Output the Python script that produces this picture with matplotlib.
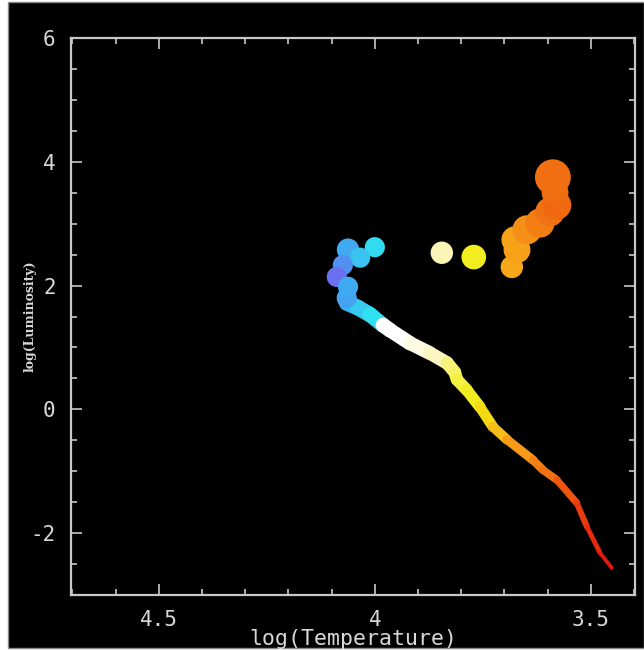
import numpy as np
import matplotlib
matplotlib.use("Agg")
import matplotlib.pyplot as plt
from matplotlib.collections import LineCollection
from matplotlib.colors import LinearSegmentedColormap, Normalize
from matplotlib.patches import Rectangle
from matplotlib.ticker import MultipleLocator

plt.rcParams['axes.unicode_minus'] = False

# ---- data (log T, log L) ----
ms_logT = [4.065, 4.041, 4.011, 3.981, 3.965, 3.919, 3.873, 3.833, 3.815, 3.810,
           3.787, 3.757, 3.727, 3.694, 3.634, 3.611, 3.579, 3.533, 3.509, 3.479, 3.452]
ms_logL = [1.72, 1.65, 1.53, 1.36, 1.28, 1.07, 0.91, 0.75, 0.60, 0.48,
           0.31, 0.04, -0.28, -0.49, -0.82, -0.98, -1.14, -1.51, -1.90, -2.32, -2.56]

giant_logT = [4.065, 4.062, 4.000, 4.034, 4.074, 4.088, 4.062,
              3.845, 3.771,
              3.683, 3.671, 3.676, 3.648, 3.618, 3.595, 3.579, 3.583, 3.588]
giant_logL = [1.80, 2.58, 2.62, 2.45, 2.33, 2.14, 1.98,
              2.53, 2.46,
              2.30, 2.58, 2.74, 2.90, 3.01, 3.19, 3.30, 3.50, 3.75]
giant_radius = [9, 10, 9, 9, 9, 9, 9,
                10, 11,
                10, 12, 12, 13, 13, 13, 13, 12, 16]

x_ticks = [4.5, 4.0, 3.5]
x_ticklabels = ['4.5', '4', '3.5']
y_ticks = [-2, 0, 2, 4, 6]
y_ticklabels = ['-2', '0', '2', '4', '6']

# ---- colour map by temperature ----
nodes = [(3.45, '#e01010'), (3.52, '#ec3a10'), (3.58, '#f06a10'), (3.65, '#f59018'),
         (3.70, '#f8b418'), (3.76, '#f0ec10'), (3.80, '#f4f040'), (3.85, '#fcf6c0'),
         (3.93, '#ffffff'), (3.975, '#ffffff'), (3.995, '#30e0f0'), (4.03, '#38c8f0'),
         (4.065, '#40a8f0'), (4.09, '#6a70f0')]
tmin, tmax = nodes[0][0], nodes[-1][0]
cmap = LinearSegmentedColormap.from_list(
    'hr', [((t - tmin) / (tmax - tmin), c) for t, c in nodes])
norm = Normalize(tmin, tmax)

W, H = 644, 650
fig = plt.figure(figsize=(W / 100, H / 100), dpi=100, facecolor='white')
fig.patches.append(Rectangle((8 / W, 2 / H), (W - 8) / W, (H - 4) / H,
                             transform=fig.transFigure, facecolor='black',
                             edgecolor='#888888', lw=1, zorder=-10))

ax = fig.add_axes([71 / W, (H - 595) / H, (635 - 71) / W, (595 - 38) / H])
ax.set_facecolor('black')

# main sequence as thick coloured band
pts = np.column_stack([ms_logT, ms_logL])
segs = np.stack([pts[:-1], pts[1:]], axis=1)
mid_T = (pts[:-1, 0] + pts[1:, 0]) / 2
mid_L = (pts[:-1, 1] + pts[1:, 1]) / 2
Lmin, Lmax = min(ms_logL), max(ms_logL)
width_px = 3.5 + (mid_L - Lmin) / (Lmax - Lmin) * 12.5
lc = LineCollection(segs, colors=cmap(norm(mid_T)), linewidths=width_px * 0.72,
                    capstyle='round', joinstyle='round', zorder=2)
ax.add_collection(lc)

# giants
sizes = [(2 * r * 1.12 * 0.72) ** 2 for r in giant_radius]
ax.scatter(giant_logT, giant_logL, s=sizes, c=giant_logT, cmap=cmap, norm=norm,
           edgecolors='none', zorder=3)

ax.set_xlim(4.703, 3.398)
ax.set_ylim(-3.0, 6.0)

ax.set_xticks(x_ticks)
ax.set_xticklabels(x_ticklabels)
ax.set_yticks(y_ticks)
ax.set_yticklabels(y_ticklabels)
ax.xaxis.set_minor_locator(MultipleLocator(0.1))
ax.yaxis.set_minor_locator(MultipleLocator(0.5))

spine_c = '#c8c8c8'
for s in ax.spines.values():
    s.set_color(spine_c)
    s.set_linewidth(1.6)
ax.tick_params(which='both', direction='in', top=True, right=True,
               color=spine_c, labelcolor='#d8d8d8', width=1.2)
ax.tick_params(which='major', length=8, pad=11)
ax.tick_params(which='minor', length=4.3)
for lab in ax.get_xticklabels() + ax.get_yticklabels():
    lab.set_family('DejaVu Sans Mono')
    lab.set_fontsize(15)

ax.set_xlabel('log(Temperature)', family='DejaVu Sans Mono', fontsize=15.5,
              color='#d8d8d8', labelpad=-1)
fig.text(30 / W, 1 - 316 / H, 'log(Luminosity)', rotation=90, family='DejaVu Serif',
         fontsize=9, fontweight='bold', color='#d8d8d8', ha='center', va='center')

fig.savefig('out.png', dpi=100, facecolor='white')
